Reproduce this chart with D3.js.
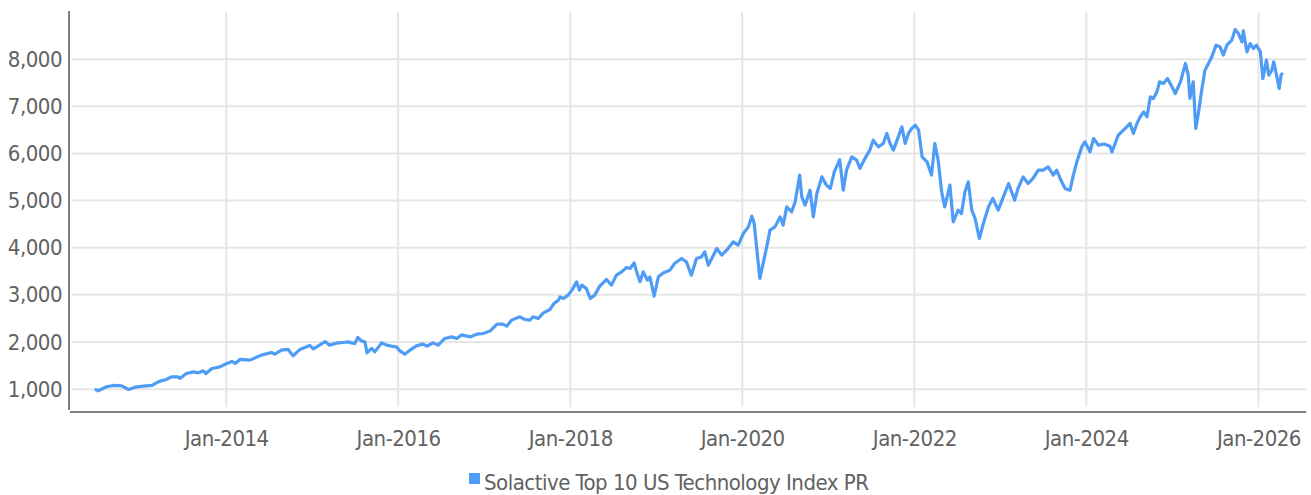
<!DOCTYPE html>
<html>
<head>
<meta charset="utf-8">
<script src="https://cdn.jsdelivr.net/npm/d3@7"></script>
<style>
  body { margin: 0; background: #fff; }
  svg text { font-family: 'Liberation Sans Narrow', 'DejaVu Sans Condensed', Roboto, sans-serif; fill: #626262; letter-spacing: -0.5px; }
</style>
</head>
<body>
<svg></svg>
<script>
var seriesName = 'Solactive Top 10 US Technology Index PR';

// index level
var dates = [
	'2012-06-22','2012-07-06','2012-08-11','2012-09-09','2012-10-14','2012-11-12','2012-12-10',
	'2013-01-14','2013-02-20','2013-03-25','2013-04-23','2013-05-13','2013-06-11','2013-06-18','2013-07-16','2013-08-14','2013-09-05','2013-09-26','2013-10-07','2013-11-01','2013-12-05',
	'2014-01-04','2014-01-25','2014-02-08','2014-02-28','2014-04-11','2014-05-30','2014-07-12','2014-07-26','2014-08-24','2014-09-21','2014-10-12','2014-11-10','2014-12-01','2014-12-22',
	'2015-01-06','2015-01-27','2015-02-25','2015-03-16','2015-04-14','2015-05-12','2015-06-03','2015-06-17','2015-07-01','2015-07-14','2015-07-29','2015-08-13','2015-08-22','2015-09-10','2015-09-24','2015-10-23','2015-11-13','2015-12-04','2015-12-24',
	'2016-01-09','2016-01-29','2016-02-20','2016-03-19','2016-04-16','2016-05-03','2016-05-28','2016-06-19','2016-07-17','2016-08-15','2016-09-06','2016-09-27','2016-11-02','2016-11-30','2016-12-28',
	'2017-01-26','2017-02-24','2017-03-21','2017-04-06','2017-04-27','2017-06-01','2017-06-22','2017-07-13','2017-07-27','2017-08-18','2017-09-09','2017-10-07','2017-10-24','2017-11-12','2017-11-19','2017-12-03','2017-12-23',
	'2018-01-08','2018-01-28','2018-02-09','2018-02-19','2018-03-10','2018-03-27','2018-04-15','2018-05-06','2018-06-04','2018-06-25','2018-07-16','2018-08-07','2018-08-28','2018-09-12','2018-09-29','2018-10-12','2018-10-24','2018-11-07','2018-11-24','2018-12-05','2018-12-23',
	'2019-01-10','2019-02-01','2019-02-28','2019-03-20','2019-04-18','2019-05-09','2019-05-30','2019-06-21','2019-07-12','2019-07-26','2019-08-10','2019-09-01','2019-09-15','2019-10-06','2019-10-27','2019-11-24','2019-12-15',
	'2020-01-06','2020-01-27','2020-02-11','2020-02-21','2020-03-02','2020-03-16','2020-03-30','2020-04-14','2020-04-28','2020-05-19','2020-06-10','2020-06-23','2020-07-08','2020-07-29','2020-08-13','2020-09-01','2020-09-10','2020-09-24','2020-10-15','2020-10-29','2020-11-13','2020-12-04','2020-12-24',
	'2021-01-09','2021-01-26','2021-02-18','2021-03-05','2021-03-19','2021-04-10','2021-05-01','2021-05-15','2021-06-05','2021-06-26','2021-07-10','2021-08-01','2021-08-22','2021-09-06','2021-09-20','2021-10-04','2021-10-25','2021-11-09','2021-11-23','2021-12-07','2021-12-21',
	'2022-01-05','2022-01-19','2022-02-03','2022-02-24','2022-03-15','2022-03-29','2022-04-12','2022-04-27','2022-05-10','2022-06-01','2022-06-15','2022-07-06','2022-07-20','2022-08-04','2022-08-18','2022-09-02','2022-09-16','2022-10-04','2022-10-21','2022-11-12','2022-11-30','2022-12-23',
	'2023-01-14','2023-02-05','2023-03-03','2023-03-17','2023-04-08','2023-04-29','2023-05-20','2023-06-11','2023-07-02','2023-07-23','2023-08-14','2023-08-28','2023-09-12','2023-10-03','2023-10-24','2023-11-07','2023-11-22','2023-12-13','2023-12-26',
	'2024-01-17','2024-02-01','2024-02-22','2024-03-16','2024-04-11','2024-04-19','2024-05-16','2024-05-30','2024-06-21','2024-07-05','2024-07-19','2024-08-03','2024-08-17','2024-09-01','2024-09-15','2024-09-29','2024-10-12','2024-10-27','2024-11-07','2024-11-24','2024-12-11','2024-12-30',
	'2025-01-13','2025-02-04','2025-02-25','2025-03-09','2025-03-16','2025-03-30','2025-04-10','2025-04-21','2025-05-05','2025-05-19','2025-06-03','2025-06-17','2025-07-05','2025-07-22','2025-08-05','2025-08-20','2025-09-10','2025-09-24','2025-10-08','2025-10-23','2025-10-29','2025-11-13','2025-11-27','2025-12-11','2025-12-24',
	'2026-01-09','2026-01-20','2026-02-04','2026-02-14','2026-02-27','2026-03-07','2026-03-19','2026-03-30','2026-04-07','2026-04-14'
];

var values = [
	1000,965,1050,1078,1070,993,1042,
	1064,1078,1170,1205,1261,1261,1227,1331,1367,1346,1388,1331,1438,1473,
	1545,1587,1545,1630,1615,1721,1778,1742,1827,1842,1706,1842,1884,1927,
	1855,1920,2010,1933,1975,1990,2003,1982,1969,2096,2024,2003,1770,1863,1791,1982,1933,1912,1897,
	1812,1742,1827,1918,1954,1912,1982,1933,2075,2109,2075,2152,2109,2166,2180,
	2236,2378,2378,2336,2464,2534,2478,2464,2534,2499,2618,2690,2817,2888,2958,2923,2994,
	3100,3276,3100,3206,3136,2923,2994,3185,3326,3206,3418,3488,3581,3560,3679,3453,3276,3488,3312,3380,2973,
	3383,3468,3524,3666,3772,3700,3418,3772,3806,3912,3630,3842,3984,3842,3948,4124,4054,
	4302,4442,4670,4514,4018,3348,3666,4018,4372,4442,4654,4479,4867,4761,4973,5539,5079,4903,5221,4654,5149,5503,5327,
	5256,5609,5869,5221,5645,5927,5857,5681,5891,6069,6281,6139,6211,6423,6211,6069,6352,6564,6211,6423,6529,
	6600,6494,5927,5821,5539,6211,5857,5185,4867,5327,4549,4797,4724,5185,5397,4797,4620,4196,4514,4867,5043,4797,
	5079,5362,5009,5256,5503,5362,5469,5645,5645,5716,5539,5645,5469,5256,5221,5539,5821,6139,6246,
	6035,6316,6175,6200,6150,6030,6387,6458,6564,6635,6423,6635,6776,6882,6776,7200,7165,7306,7519,7483,7589,7413,
	7271,7519,7908,7660,7165,7519,6529,6847,7342,7766,7908,8049,8296,8261,8085,8296,8402,8627,8542,8366,8599,8155,8331,8226,8296,
	8155,7589,7978,7660,7766,7942,7660,7377,7660,7709
];

var xTickLabels = ['Jan-2014', 'Jan-2016', 'Jan-2018', 'Jan-2020', 'Jan-2022', 'Jan-2024', 'Jan-2026'];
var yTickValues = [1000, 2000, 3000, 4000, 5000, 6000, 7000, 8000];

var width = 1311;
var height = 495;
var lineColor = '#4f9cf7';
var fontSize = 22;

var parseDate = d3.timeParse('%Y-%m-%d');
var parseTick = d3.timeParse('%b-%Y');

var series = dates.map((d, i) => ({date: parseDate(d), value: values[i]}));
var xTicks = xTickLabels.map(parseTick);

var svg = d3.select('svg')
	.attr('width', width)
	.attr('height', height);

var xScale = d3.scaleTime()
	.domain([parseDate('2012-03-13'), parseDate('2026-07-22')])
	.range([71, 1306]);

var yScale = d3.scaleLinear()
	.domain([600, 9000])
	.range([408, 12]);

// grid
svg.append('g')
	.selectAll('line')
	.data(yTickValues)
	.enter()
	.append('line')
		.attr('x1', 72)
		.attr('x2', 1306)
		.attr('y1', d => yScale(d))
		.attr('y2', d => yScale(d))
		.attr('stroke', '#e6e6e6')
		.attr('stroke-width', 2);

svg.append('g')
	.selectAll('line')
	.data(xTicks)
	.enter()
	.append('line')
		.attr('x1', d => xScale(d))
		.attr('x2', d => xScale(d))
		.attr('y1', 12)
		.attr('y2', 407)
		.attr('stroke', '#e6e6e6')
		.attr('stroke-width', 2);

// axes
var xAxis = d3.axisBottom(xScale)
	.tickValues(xTicks)
	.tickFormat((d, i) => xTickLabels[i])
	.tickSize(0)
	.tickPadding(15);

var yAxis = d3.axisLeft(yScale)
	.tickValues(yTickValues)
	.tickFormat(d3.format(','))
	.tickSize(0)
	.tickPadding(7);

svg.append('g')
	.attr('transform', 'translate(0, 412)')
	.call(xAxis)
	.call(g => g.select('.domain').remove())
	.selectAll('text')
		.attr('font-size', fontSize)
		.attr('dy', '0.85em')
		.style('font-family', null);

svg.append('g')
	.attr('transform', 'translate(69, 0)')
	.call(yAxis)
	.call(g => g.select('.domain').remove())
	.selectAll('text')
		.attr('font-size', fontSize)
		.style('font-family', null);

svg.append('line')
	.attr('x1', 69).attr('x2', 69)
	.attr('y1', 11).attr('y2', 410)
	.attr('stroke', '#808080')
	.attr('stroke-width', 2);

svg.append('line')
	.attr('x1', 70).attr('x2', 1306)
	.attr('y1', 412).attr('y2', 412)
	.attr('stroke', '#808080')
	.attr('stroke-width', 2);

svg.selectAll('.tick text').attr('fill', '#626262');

// the index line
var line = d3.line()
	.x(d => xScale(d.date))
	.y(d => yScale(d.value));

svg.append('path')
	.datum(series)
	.attr('d', line)
	.attr('fill', 'none')
	.attr('stroke', lineColor)
	.attr('stroke-width', 3.2)
	.attr('stroke-linejoin', 'round');

// legend
var legend = svg.append('g')
	.attr('transform', 'translate(469, 473)');

legend.append('rect')
	.attr('width', 11)
	.attr('height', 11)
	.attr('fill', lineColor);

legend.append('text')
	.attr('x', 15)
	.attr('y', 17)
	.attr('font-size', fontSize)
	.text(seriesName);
</script>
</body>
</html>
